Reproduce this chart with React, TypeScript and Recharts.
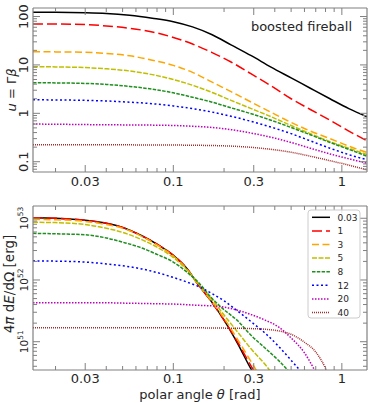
import React from 'react'
import { LineChart, Line, XAxis, YAxis } from 'recharts'

const FONT = '"DejaVu Sans", sans-serif'
const AXIS = '#808080'
const INK = '#262626'

// one entry per curve
const LABELS = ['0.03', '1', '3', '5', '8', '12', '20', '40']
const COLORS = ['#000000', '#ff0000', '#ffa500', '#bfbf00', '#1f8f1f', '#0000ff', '#bf00bf', '#a52a2a']
const DASHES = ['', '10 4', '7 3.5', '5 1.5', '3.5 1.3', '2 2.5', '1.5 1.5', '1 1']

// top panel: u = Γβ against polar angle
const THETA_TOP = [0.0147, 0.02, 0.03, 0.04, 0.055, 0.075, 0.1, 0.13, 0.17, 0.22, 0.29, 0.38, 0.5, 0.65, 0.85, 1.1, 1.41]
const U_003 = [122, 122, 120, 116, 106, 92, 78, 61, 42, 26, 15.5, 9, 5.4, 3.3, 2.0, 1.25, 0.85]
const U_1 = [70, 70, 68, 64, 57, 48, 37, 27, 18, 11.5, 6.5, 3.7, 2.0, 1.2, 0.72, 0.43, 0.27]
const U_3 = [18.8, 18.6, 18.2, 17.3, 15.5, 12.5, 9.8, 7.0, 4.4, 2.8, 1.7, 1.05, 0.65, 0.43, 0.3, 0.21, 0.155]
const U_5 = [9.2, 9.1, 8.8, 8.3, 7.5, 6.3, 5.0, 3.8, 2.7, 1.85, 1.25, 0.85, 0.56, 0.38, 0.26, 0.19, 0.14]
const U_8 = [4.3, 4.25, 4.15, 3.95, 3.6, 3.15, 2.65, 2.15, 1.7, 1.3, 0.98, 0.72, 0.51, 0.36, 0.25, 0.18, 0.13]
const U_12 = [1.9, 1.89, 1.85, 1.8, 1.7, 1.58, 1.42, 1.25, 1.06, 0.87, 0.68, 0.52, 0.38, 0.27, 0.19, 0.14, 0.11]
const U_20 = [0.6, 0.595, 0.585, 0.58, 0.575, 0.57, 0.56, 0.54, 0.51, 0.46, 0.39, 0.32, 0.25, 0.19, 0.145, 0.115, 0.093]
const U_40 = [0.224, 0.224, 0.224, 0.224, 0.223, 0.222, 0.221, 0.219, 0.216, 0.21, 0.198, 0.18, 0.157, 0.13, 0.105, 0.085, 0.068]

// bottom panel: 4π dE/dΩ in units of 1e51 erg
const THETA_BOT = [0.0147, 0.02, 0.03, 0.04, 0.05, 0.065, 0.08, 0.1, 0.12, 0.14, 0.17, 0.2, 0.24, 0.29, 0.35, 0.42, 0.5, 0.6, 0.7, 0.8, 0.9]
const E_003 = [102, 100, 93, 83, 71, 52, 38, 25, 15.5, 8.5, 4.3, 2.24, 0.95, 0.355, 0.16, null, null, null, null, null, null]
const E_1 = [102, 100, 93, 83, 71, 52, 38, 25, 15.5, 8.5, 4.3, 2.24, 1.0, 0.4, 0.18, null, null, null, null, null, null]
const E_3 = [95.5, 94.4, 89, 79, 69, 51, 37, 24.5, 15.1, 8.5, 4.4, 2.4, 1.1, 0.47, 0.2, null, null, null, null, null, null]
const E_5 = [86, 85, 79, 69, 59, 45, 34, 23, 14.8, 8.9, 4.8, 2.7, 1.45, 0.76, 0.43, 0.22, null, null, null, null, null]
const E_8 = [57, 56, 54, 48, 41, 33, 26, 19.5, 13.5, 9.3, 5.0, 3.3, 2.2, 1.26, 0.79, 0.5, 0.3, 0.16, null, null, null]
const E_12 = [20.4, 20.2, 19.5, 18.2, 17, 15.1, 13.2, 11, 9.3, 7.9, 6.0, 4.6, 3.16, 2.1, 1.38, 0.85, 0.5, 0.28, 0.16, null, null]
const E_20 = [4.27, 4.27, 4.27, 4.27, 4.22, 4.17, 4.12, 4.07, 3.98, 3.89, 3.8, 3.63, 3.24, 2.75, 2.24, 1.74, 1.15, 0.66, 0.32, 0.16, null]
const E_40 = [1.69, 1.69, 1.69, 1.69, 1.69, 1.69, 1.69, 1.69, 1.69, 1.68, 1.67, 1.66, 1.65, 1.63, 1.59, 1.5, 1.32, 0.98, 0.68, 0.37, 0.16]

const U_SERIES = [U_003, U_1, U_3, U_5, U_8, U_12, U_20, U_40]
const E_SERIES = [E_003, E_1, E_3, E_5, E_8, E_12, E_20, E_40]

// axes
const X_DOMAIN = [0.0147, 1.41]
const X_MAJOR = [0.03, 0.1, 0.3, 1]
const X_MINOR = [0.02, 0.04, 0.05, 0.06, 0.07, 0.08, 0.09, 0.2, 0.4, 0.5, 0.6, 0.7, 0.8, 0.9]
const U_DOMAIN = [0.0613, 150]
const U_MAJOR = [0.1, 1, 10, 100]
const E_DOMAIN = [0.348, 158]
const E_MAJOR = [1, 10, 100]
const E_EXP0 = 51

const minorsIn = (dom: number[], decades: number[]) =>
  decades.flatMap(d => [2, 3, 4, 5, 6, 7, 8, 9].map(k => +(k * d).toPrecision(3))).filter(v => v > dom[0] && v < dom[1])
const U_MINOR = minorsIn(U_DOMAIN, [0.01, 0.1, 1, 10, 100])
const E_MINOR = minorsIn(E_DOMAIN, [0.1, 1, 10, 100])

const rows = (xs: number[], series: (number | null)[][]) =>
  xs.map((theta, i) => {
    const r: any = { theta }
    series.forEach((s, k) => { r[`s${k}`] = s[i] })
    return r
  })
const TOP_ROWS = rows(THETA_TOP, U_SERIES)
const BOT_ROWS = rows(THETA_BOT, E_SERIES)

// tick renderers (ticks point inwards, like matplotlib 'in')
const xTick = (side: 'bottom' | 'top', labelDy = 14) => (p: any) => {
  const v = p.payload.value
  const major = X_MAJOR.includes(v)
  const len = (major ? 7 : 4) * (side === 'bottom' ? -1 : 1)
  return (
    <g>
      <line x1={p.x} x2={p.x} y1={p.y} y2={p.y + len} stroke={AXIS} strokeWidth={1} />
      {major && side === 'bottom' && (
        <text x={p.x} y={p.y + labelDy} textAnchor="middle" fontSize={13} fill={INK} fontFamily={FONT}>{String(v)}</text>
      )}
    </g>
  )
}

const yTick = (side: 'left' | 'right', majors: number[], label?: (v: number) => React.ReactNode) => (p: any) => {
  const v = p.payload.value
  const major = majors.includes(v)
  const len = (major ? 7 : 4) * (side === 'left' ? 1 : -1)
  return (
    <g>
      <line x1={p.x} x2={p.x + len} y1={p.y} y2={p.y} stroke={AXIS} strokeWidth={1} />
      {major && label && side === 'left' && (
        <text transform={`rotate(-90 ${p.x - 4.5} ${p.y})`} x={p.x - 4.5} y={p.y} textAnchor="middle"
          fontSize={13} fill={INK} fontFamily={FONT}>{label(v)}</text>
      )}
    </g>
  )
}

const uLabel = (v: number) => String(v)
const eLabel = (v: number) => (
  <>
    <tspan fontSize={10.5}>10</tspan>
    <tspan fontSize={7.5} dy={-5}>{E_EXP0 + Math.round(Math.log10(v))}</tspan>
  </>
)

function Panel({ data, top, height, margin, yDomain, yMajor, yMinor, yLabel, labelDy }: any) {
  const xTicks = [...X_MAJOR, ...X_MINOR].sort((a, b) => a - b)
  const yTicks = [...yMajor, ...yMinor].sort((a: number, b: number) => a - b)
  const line = { stroke: AXIS, strokeWidth: 1.2 }
  return (
    <div style={{ position: 'absolute', left: 0, top }}>
      <LineChart width={374} height={height} data={data} margin={margin}>
        <XAxis dataKey="theta" type="number" scale="log" domain={X_DOMAIN} allowDataOverflow ticks={xTicks}
          interval={0} height={1} tickSize={0} tickMargin={0} tickLine={false} tick={xTick('bottom', labelDy)}
          axisLine={line} />
        <XAxis xAxisId="top" orientation="top" dataKey="theta" type="number" scale="log" domain={X_DOMAIN} allowDataOverflow
          ticks={xTicks} interval={0} height={1} tickSize={0} tickMargin={0} tickLine={false} tick={xTick('top')}
          axisLine={line} />
        <YAxis type="number" scale="log" domain={yDomain} allowDataOverflow ticks={yTicks} interval={0}
          width={1} tickSize={0} tickMargin={0} tickLine={false} tick={yTick('left', yMajor, yLabel)} axisLine={line} />
        <YAxis yAxisId="right" orientation="right" type="number" scale="log" domain={yDomain} allowDataOverflow
          ticks={yTicks} interval={0} width={1} tickSize={0} tickMargin={0} tickLine={false}
          tick={yTick('right', yMajor)} axisLine={line} />
        {LABELS.map((lab, k) => (
          <Line key={lab} dataKey={`s${k}`} name={lab} type="monotone" stroke={COLORS[k]}
            strokeDasharray={DASHES[k] || undefined} strokeWidth={1.5} dot={false} activeDot={false}
            isAnimationActive={false} />
        ))}
      </LineChart>
    </div>
  )
}

export default function App() {
  const legendY = (k: number) => 217.3 + 13.6 * k
  return (
    <div style={{ position: 'absolute', left: 0, top: 0, width: 374, height: 403, background: '#fff', fontFamily: FONT }}>
      <Panel data={TOP_ROWS} top={0} height={200} margin={{ top: 7, right: 6, bottom: 27, left: 32 }}
        yDomain={U_DOMAIN} yMajor={U_MAJOR} yMinor={U_MINOR} yLabel={uLabel} labelDy={14} />
      <Panel data={BOT_ROWS} top={200} height={203} margin={{ top: 5, right: 6, bottom: 32, left: 32 }}
        yDomain={E_DOMAIN} yMajor={E_MAJOR} yMinor={E_MINOR} yLabel={eLabel} labelDy={12.5} />

      <svg width={374} height={403} style={{ position: 'absolute', left: 0, top: 0, pointerEvents: 'none' }}
        fontFamily={FONT} fill={INK}>
        <text x={352} y={30.5} textAnchor="end" fontSize={13}>boosted fireball</text>

        <text transform="rotate(-90)" x={-90} y={15.5} textAnchor="middle" fontSize={13}>
          <tspan fontStyle="italic">u</tspan>
          <tspan> = Γ</tspan>
          <tspan fontStyle="italic">β</tspan>
        </text>
        <text transform="rotate(-90)" x={-284} y={14} textAnchor="middle" fontSize={13.5}>
          4<tspan fontStyle="italic">π</tspan> d<tspan fontStyle="italic">E</tspan>/dΩ [erg]
        </text>
        <text x={200} y={399} textAnchor="middle" fontSize={13}>
          polar angle <tspan fontStyle="italic">θ</tspan> [rad]
        </text>

        <rect x={308} y={210} width={52} height={108} rx={3} fill="#fff" fillOpacity={0.8} stroke="#cccccc" />
        {LABELS.map((lab, k) => (
          <g key={lab}>
            <line x1={312} x2={330} y1={legendY(k)} y2={legendY(k)} stroke={COLORS[k]} strokeWidth={1.5}
              strokeDasharray={DASHES[k] || undefined} />
            <text x={337.5} y={legendY(k) + 3.3} fontSize={9}>{lab}</text>
          </g>
        ))}
      </svg>
    </div>
  )
}
